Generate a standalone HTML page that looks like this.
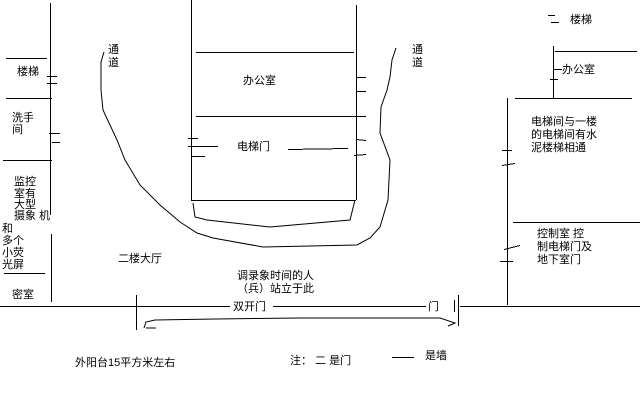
<!DOCTYPE html>
<html><head><meta charset="utf-8"><style>
html,body{margin:0;padding:0;background:#fff;width:640px;height:400px;overflow:hidden}
svg{display:block}
text{font-family:"Liberation Sans","Noto Sans CJK SC","WenQuanYi Zen Hei",sans-serif;font-size:11px;fill:#000}
</style></head><body>
<svg width="640" height="400" viewBox="0 0 640 400" xmlns="http://www.w3.org/2000/svg">
<g stroke="#000" stroke-width="1" fill="none" shape-rendering="crispEdges">
<line x1="50.5" y1="3" x2="50.5" y2="215"/>
<line x1="51.5" y1="234" x2="51.5" y2="302"/>
<line x1="6" y1="58.5" x2="47" y2="58.5"/>
<line x1="6" y1="98.5" x2="52" y2="98.5"/>
<line x1="3" y1="160.5" x2="52" y2="160.5"/>
<line x1="4" y1="273.5" x2="45" y2="273.5"/>
<line x1="47" y1="76.5" x2="57" y2="76.5"/>
<line x1="47" y1="83.5" x2="57" y2="83.5"/>
<line x1="49" y1="133.5" x2="60" y2="133.5"/>
<line x1="52" y1="142.5" x2="60" y2="142.5"/>
<line x1="191.5" y1="0" x2="191.5" y2="200"/>
<line x1="356.5" y1="5" x2="356.5" y2="200"/>
<line x1="196" y1="52.5" x2="354" y2="52.5"/>
<line x1="196" y1="116.5" x2="366" y2="116.5"/>
<line x1="191" y1="200.5" x2="356" y2="200.5"/>
<line x1="188" y1="138.5" x2="198" y2="138.5"/>
<line x1="188" y1="146.5" x2="218" y2="146.5"/>
<line x1="191" y1="156.5" x2="205" y2="156.5"/>
<line x1="288" y1="149.5" x2="348" y2="148.5"/>
<line x1="356" y1="77.5" x2="366" y2="77.5"/>
<line x1="356" y1="91.5" x2="366" y2="91.5"/>
<line x1="356" y1="139.5" x2="366" y2="140.5"/>
<line x1="354" y1="155.5" x2="366" y2="154.5"/>
<line x1="507.5" y1="98" x2="507.5" y2="305"/>
<line x1="553.5" y1="46" x2="553.5" y2="98"/>
<line x1="555" y1="51.5" x2="637" y2="51.5"/>
<line x1="515" y1="98.5" x2="632" y2="98.5"/>
<line x1="513" y1="222.5" x2="640" y2="222.5"/>
<line x1="548" y1="15.5" x2="555" y2="15.5"/>
<line x1="551" y1="22.5" x2="559" y2="22.5"/>
<line x1="553" y1="69.5" x2="562" y2="69.5"/>
<line x1="550" y1="79.5" x2="558" y2="79.5"/>
<line x1="502" y1="150.5" x2="512" y2="150.5"/>
<line x1="502" y1="165.5" x2="515" y2="163.5"/>
<line x1="504" y1="249.5" x2="520" y2="245.5"/>
<line x1="500" y1="261.5" x2="513" y2="261.5"/>
<line x1="0" y1="306.5" x2="230" y2="306.5"/>
<line x1="273" y1="306.5" x2="426" y2="306.5"/>
<line x1="460" y1="306.5" x2="640" y2="306.5"/>
<line x1="136.5" y1="295" x2="136.5" y2="330"/>
<line x1="458.5" y1="295" x2="458.5" y2="326"/>
<line x1="454.5" y1="300" x2="454.5" y2="312"/>
<line x1="392" y1="357.5" x2="414" y2="357.5"/>
</g>
<g stroke="#000" stroke-width="1" fill="none">
<path d="M144,328 L146,322 L155,320 L215,319 L300,318 L440,318 L455,323 L448,326"/>
<path d="M146,328 L156,328"/>
<path d="M193,203 L195,217 L207,220 L270,227 L350,220 L355,200"/>
<path d="M104,52 L101,62 L101,90 L103,110 L110,125 L117,140 L125,160 L140,185 L160,205 L180,222 L197,233 L213,238 L263,247 L357,245 L370,238 L380,227 L388,200 L390,160 L380,133 L381,107 L387,90 L390,77 L392,60 L396,48"/>
</g>
<text x="17" y="75">楼梯</text>
<text x="12" y="121">洗手</text>
<text x="12" y="133">间</text>
<text x="14" y="185">监控</text>
<text x="14" y="197">室有</text>
<text x="14" y="208">大型</text>
<text x="14" y="219">摄象 机</text>
<text x="2" y="232">和</text>
<text x="2" y="244">多个</text>
<text x="2" y="256">小荧</text>
<text x="2" y="268">光屏</text>
<text x="12" y="298">密室</text>
<text x="108" y="53">通</text>
<text x="108" y="66">道</text>
<text x="412" y="53">通</text>
<text x="412" y="66">道</text>
<text x="243" y="84">办公室</text>
<text x="237" y="150">电梯门</text>
<text x="118" y="262">二楼大厅</text>
<text x="237" y="279">调录象时间的人</text>
<text x="237" y="292">（兵）站立于此</text>
<text x="233" y="310">双开门</text>
<text x="428" y="310">门</text>
<text x="570" y="23">楼梯</text>
<text x="562" y="73">办公室</text>
<text x="531" y="125">电梯间与一楼</text>
<text x="531" y="138">的电梯间有水</text>
<text x="531" y="151">泥楼梯相通</text>
<text x="537" y="237">控制室 控</text>
<text x="537" y="250">制电梯门及</text>
<text x="537" y="263">地下室门</text>
<text x="75" y="366">外阳台15平方米左右</text>
<text x="290" y="364">注： 二 是门</text>
<text x="425" y="359">是墙</text>
</svg>
</body></html>
